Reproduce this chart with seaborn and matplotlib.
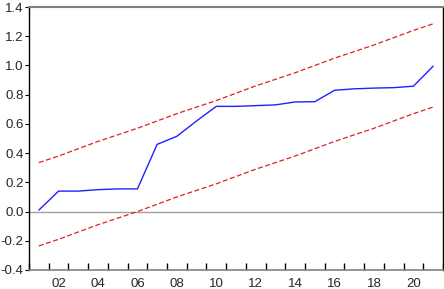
import matplotlib
matplotlib.use("Agg")
import matplotlib.pyplot as plt
import numpy as np
import pandas as pd
import seaborn as sns

years = list(range(2001, 2022))
cusum_sq = [0.01, 0.14, 0.14, 0.15, 0.155, 0.155, 0.46, 0.515, 0.62, 0.72, 0.72,
            0.725, 0.73, 0.75, 0.752, 0.83, 0.84, 0.845, 0.848, 0.858, 0.995]
upper = [0.335, 0.38, 0.43, 0.48, 0.525, 0.57, 0.62, 0.67, 0.715, 0.76, 0.81,
         0.86, 0.905, 0.95, 1.0, 1.05, 1.095, 1.14, 1.19, 1.24, 1.285]
lower = [-0.235, -0.19, -0.14, -0.09, -0.045, 0.0, 0.05, 0.10, 0.145, 0.19, 0.24,
         0.29, 0.335, 0.38, 0.43, 0.48, 0.525, 0.57, 0.62, 0.67, 0.715]
tick_years = [2002, 2004, 2006, 2008, 2010, 2012, 2014, 2016, 2018, 2020]
tick_labels = ["02", "04", "06", "08", "10", "12", "14", "16", "18", "20"]

df = pd.DataFrame({"year": years, "cusum": cusum_sq, "upper": upper, "lower": lower})

sns.set_style("white")
plt.rcParams["font.family"] = ["Liberation Sans", "DejaVu Sans"]

fig = plt.figure(figsize=(4.44, 2.89), dpi=100)
ax = fig.add_axes([29/444, 19/289, 414/444, 263/289])

ax.axhline(0, color="#a0a0a0", lw=1)
sns.lineplot(data=df, x="year", y="cusum", ax=ax, color="#2020ff", lw=1)
sns.lineplot(data=df, x="year", y="upper", ax=ax, color="#e02020", lw=0.9,
             linestyle=(0, (4, 2)))
sns.lineplot(data=df, x="year", y="lower", ax=ax, color="#e02020", lw=0.9,
             linestyle=(0, (4, 2)))

ax.set_xlim(2000.5, 2021.5)
ax.set_ylim(-0.4, 1.4)
ax.set_xlabel("")
ax.set_ylabel("")

ax.set_xticks(tick_years)
ax.set_xticklabels(tick_labels, fontsize=9.5)
ax.set_xticks(np.arange(2000.5, 2021.6, 1.0), minor=True)
ax.tick_params(axis="x", which="major", length=0, pad=6)
ax.tick_params(axis="x", which="minor", direction="in", length=5, width=1, color="black", bottom=True)

ax.set_yticks(np.arange(-0.4, 1.41, 0.2))
ax.set_yticklabels([f"{v:.1f}" for v in np.arange(-0.4, 1.41, 0.2)], fontsize=9.5)
ax.tick_params(axis="y", which="major", direction="out", length=3, width=0.8, color="black", left=True, pad=1)

for side in ["left", "right"]:
    ax.spines[side].set_color("black")
    ax.spines[side].set_linewidth(1)
ax.spines["top"].set_color("#808080")
ax.spines["top"].set_linewidth(1.5)
ax.spines["bottom"].set_color("#808080")
ax.spines["bottom"].set_linewidth(1.2)

fig.savefig("out.png", dpi=100)
